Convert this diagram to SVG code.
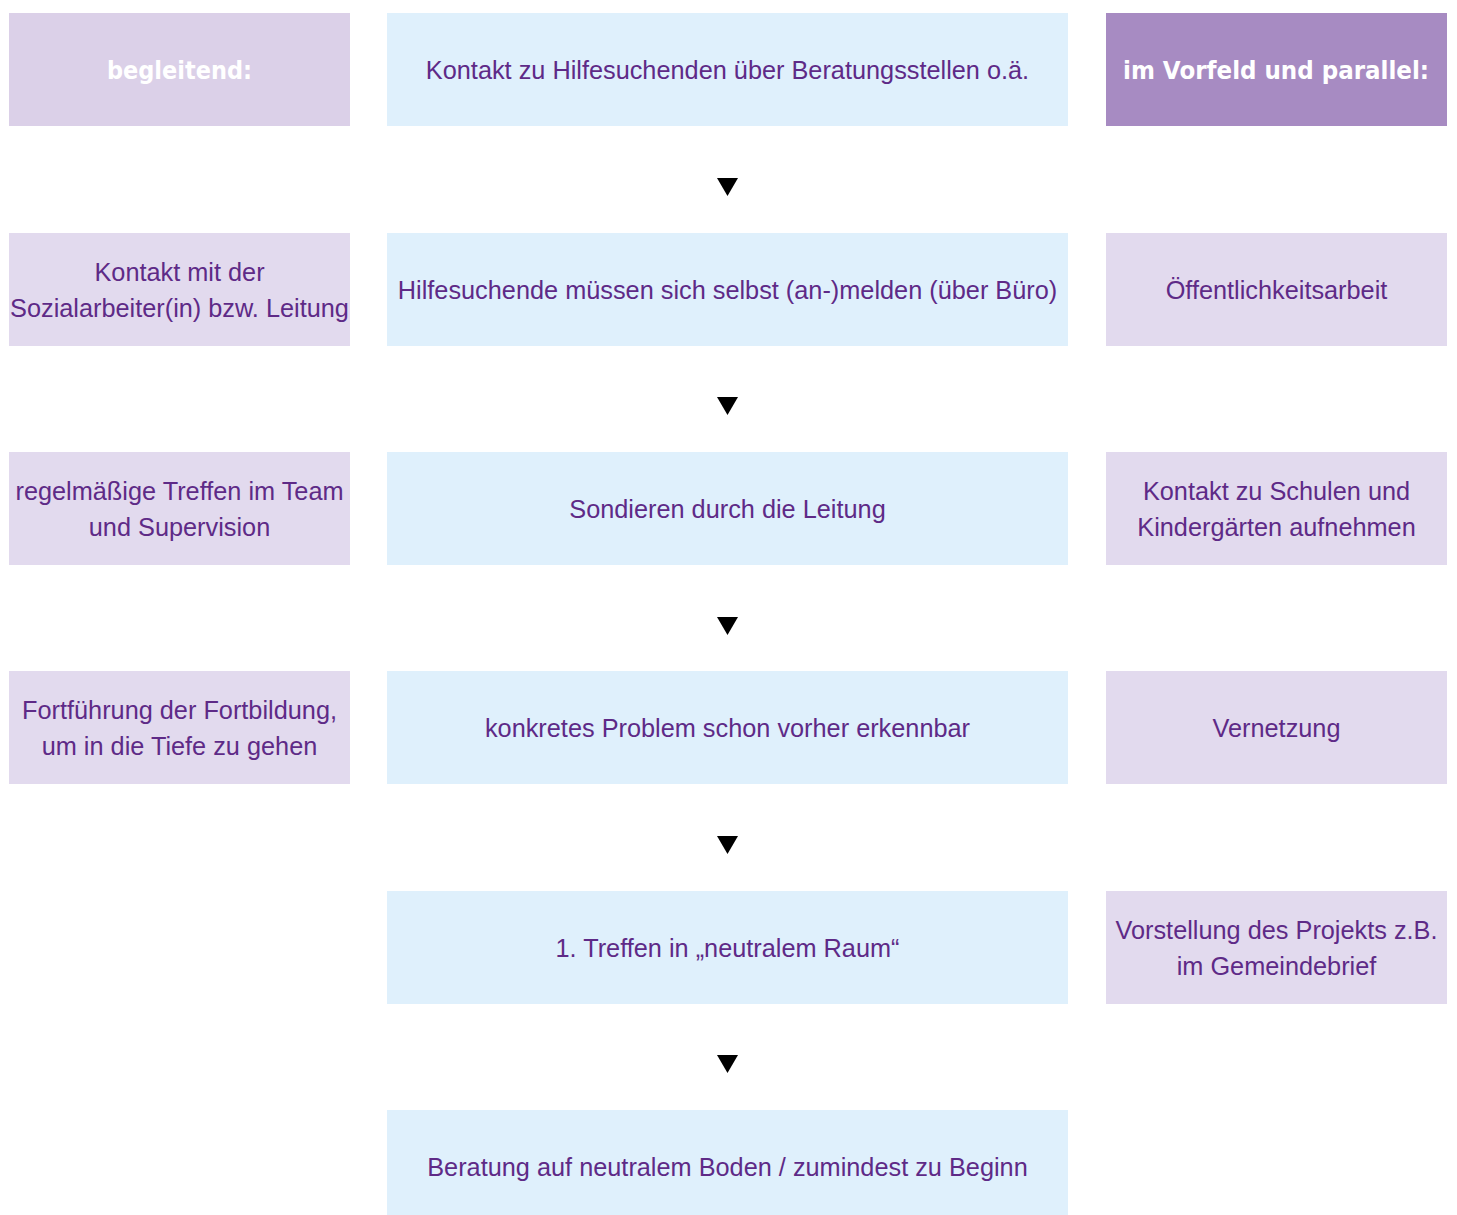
<svg xmlns="http://www.w3.org/2000/svg" width="1457" height="1215" viewBox="0 0 1457 1215">
<style>
.c{fill:#dff0fc}
.s{fill:#e2daee}
.t{font-family:"Liberation Sans",Arial,sans-serif;font-size:25.3px;fill:#5e2a87;text-anchor:middle}
.h{font-family:"DejaVu Sans","Liberation Sans",sans-serif;font-size:24px;font-weight:bold;fill:#ffffff;text-anchor:middle}
.a{fill:#000000}
</style>
<rect width="1457" height="1215" fill="#ffffff"/>
<g id="hdr-left"><rect x="9" y="13" width="341" height="113" fill="#dbd0e8"/><text class="h" x="179.5" y="79" textLength="145" lengthAdjust="spacingAndGlyphs">begleitend:</text></g>
<g id="hdr-right"><rect x="1106" y="13" width="341" height="113" fill="#a78bc2"/><text class="h" x="1276" y="79" textLength="306" lengthAdjust="spacingAndGlyphs">im Vorfeld und parallel:</text></g>
<g id="c1"><rect class="c" x="387" y="13" width="681" height="113"/><text class="t" x="727.5" y="79">Kontakt zu Hilfesuchenden über Beratungsstellen o.ä.</text></g>
<g id="c2"><rect class="c" x="387" y="233" width="681" height="113"/><text class="t" x="727.5" y="299">Hilfesuchende müssen sich selbst (an-)melden (über Büro)</text></g>
<g id="c3"><rect class="c" x="387" y="452" width="681" height="113"/><text class="t" x="727.5" y="518">Sondieren durch die Leitung</text></g>
<g id="c4"><rect class="c" x="387" y="671" width="681" height="113"/><text class="t" x="727.5" y="737">konkretes Problem schon vorher erkennbar</text></g>
<g id="c5"><rect class="c" x="387" y="891" width="681" height="113"/><text class="t" x="727.5" y="957">1. Treffen in „neutralem Raum“</text></g>
<g id="c6"><rect class="c" x="387" y="1110" width="681" height="113"/><text class="t" x="727.5" y="1176">Beratung auf neutralem Boden / zumindest zu Beginn</text></g>
<g id="l2"><rect class="s" x="9" y="233" width="341" height="113"/><text class="t" x="179.5" y="281">Kontakt mit der</text><text class="t" x="179.5" y="317">Sozialarbeiter(in) bzw. Leitung</text></g>
<g id="l3"><rect class="s" x="9" y="452" width="341" height="113"/><text class="t" x="179.5" y="500">regelmäßige Treffen im Team</text><text class="t" x="179.5" y="536">und Supervision</text></g>
<g id="l4"><rect class="s" x="9" y="671" width="341" height="113"/><text class="t" x="179.5" y="719">Fortführung der Fortbildung,</text><text class="t" x="179.5" y="755">um in die Tiefe zu gehen</text></g>
<g id="r2"><rect class="s" x="1106" y="233" width="341" height="113"/><text class="t" x="1276.5" y="299">Öffentlichkeitsarbeit</text></g>
<g id="r3"><rect class="s" x="1106" y="452" width="341" height="113"/><text class="t" x="1276.5" y="500">Kontakt zu Schulen und</text><text class="t" x="1276.5" y="536">Kindergärten aufnehmen</text></g>
<g id="r4"><rect class="s" x="1106" y="671" width="341" height="113"/><text class="t" x="1276.5" y="737">Vernetzung</text></g>
<g id="r5"><rect class="s" x="1106" y="891" width="341" height="113"/><text class="t" x="1276.5" y="939">Vorstellung des Projekts z.B.</text><text class="t" x="1276.5" y="975">im Gemeindebrief</text></g>
<g id="connectors">
<polygon class="a" points="717,178 738,178 727.5,196"/>
<polygon class="a" points="717,397 738,397 727.5,415"/>
<polygon class="a" points="717,617 738,617 727.5,635"/>
<polygon class="a" points="717,836 738,836 727.5,854"/>
<polygon class="a" points="717,1055 738,1055 727.5,1073"/>
</g>
</svg>
